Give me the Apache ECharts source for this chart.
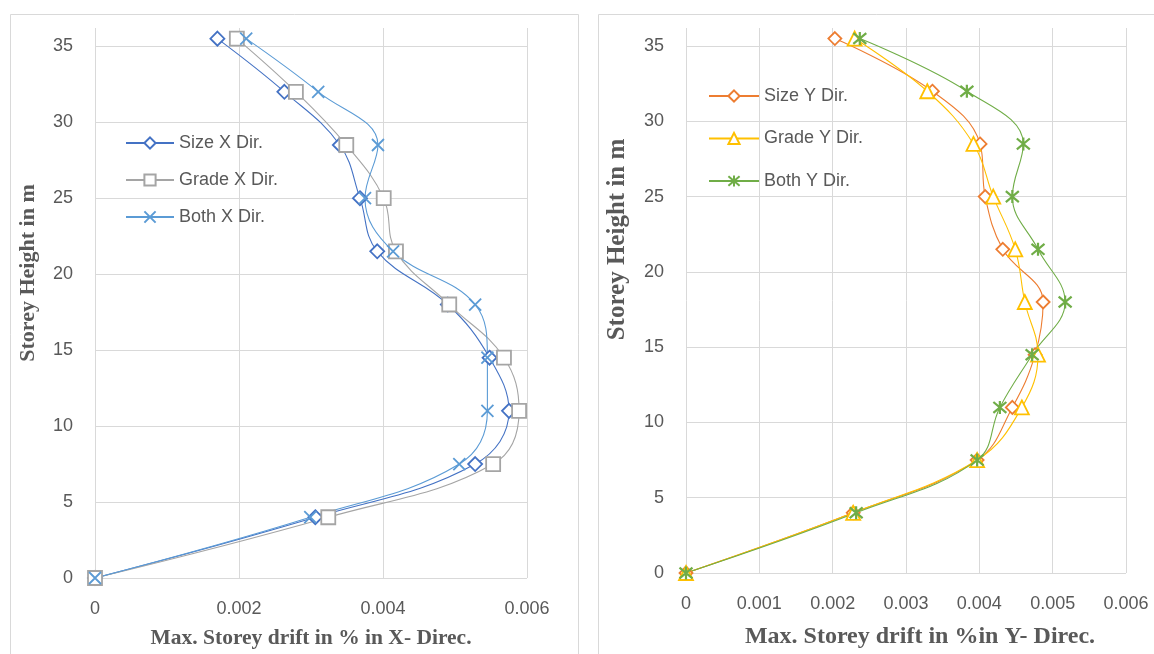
<!DOCTYPE html>
<html>
<head>
<meta charset="utf-8">
<script src="https://cdn.jsdelivr.net/npm/echarts@6/dist/echarts.min.js"></script>
<style>
html,body{margin:0;padding:0;background:#fff;}
#c{width:1154px;height:654px;}
</style>
</head>
<body>
<div id="c"></div>
<script>
// Storey heights (m)
const heights = [0, 4, 7.5, 11, 14.5, 18, 21.5, 25, 28.5, 32, 35.5];
// X direction drifts
const sizeX  = [0, 0.00306, 0.00528, 0.00575, 0.00548, 0.00490, 0.00392, 0.00368, 0.00340, 0.00263, 0.00170];
const gradeX = [0, 0.00324, 0.00553, 0.00589, 0.00568, 0.00492, 0.00418, 0.00401, 0.00349, 0.00279, 0.00197];
const bothX  = [0, 0.00299, 0.00506, 0.00545, 0.00545, 0.00528, 0.00414, 0.00375, 0.00393, 0.00310, 0.00210];
// Y direction drifts
const sizeY  = [0, 0.00228, 0.00397, 0.00445, 0.00476, 0.00487, 0.00432, 0.00408, 0.00401, 0.00336, 0.00203];
const gradeY = [0, 0.00228, 0.00397, 0.00458, 0.00480, 0.00462, 0.00449, 0.00419, 0.00392, 0.00329, 0.00230];
const bothY  = [0, 0.00232, 0.00397, 0.00428, 0.00472, 0.00517, 0.00480, 0.00445, 0.00460, 0.00383, 0.00237];

const namesX = ['Size X Dir.', 'Grade X Dir.', 'Both X Dir.'];
const namesY = ['Size Y Dir.', 'Grade Y Dir.', 'Both Y Dir.'];
const titleX = 'Max. Storey drift in % in X- Direc.';
const titleY = 'Max. Storey drift in %in Y- Direc.';
const titleH = 'Storey Height in m';

const pair = (xs) => xs.map((v, i) => [v, heights[i]]);

const X_PATH = 'path://M0,0L10,10M10,0L0,10';
const STAR_PATH = 'path://M0,0L10,10M10,0L0,10M5,-1L5,11';

const grey = '#595959';
const gridC = '#d9d9d9';
const sans = 'Liberation Sans, Arial, sans-serif';
const serif = 'Liberation Serif, Times New Roman, serif';

function mkSeries(name, data, color, symbol, size, xi, bw) {
  return {
    name, type: 'line', xAxisIndex: xi, yAxisIndex: xi,
    data: pair(data), smooth: 0.4,
    symbol, symbolSize: size,
    lineStyle: { color, width: 1.1 },
    itemStyle: { color: '#fff', borderColor: color, borderWidth: bw || 1.8 },
    emphasis: { disabled: true }
  };
}

function xAxis(gi, interval, name, fs, gap, pad) {
  return {
    type: 'value', gridIndex: gi, min: 0, max: 0.006, interval,
    axisLine: { show: false }, axisTick: { show: false },
    splitLine: { show: true, lineStyle: { color: gridC, width: 1 } },
    axisLabel: { color: grey, fontFamily: sans, fontSize: 18, margin: 22 },
    name, nameLocation: 'middle', nameGap: gap,
    nameTextStyle: { fontFamily: serif, fontWeight: 'bold', fontSize: fs, color: grey, padding: pad }
  };
}
function yAxis(gi, fs, pad) {
  return {
    type: 'value', gridIndex: gi, min: 0, max: 36.2, interval: 5,
    axisLine: { show: false }, axisTick: { show: false },
    splitLine: { show: true, showMaxLine: false, lineStyle: { color: gridC, width: 1 } },
    axisLabel: { color: grey, fontFamily: sans, fontSize: 18, margin: 22, showMaxLabel: false },
    name: titleH, nameLocation: 'middle', nameGap: 56,
    nameTextStyle: { fontFamily: serif, fontWeight: 'bold', fontSize: fs, color: grey, padding: pad }
  };
}

const chart = echarts.init(document.getElementById('c'), null, { renderer: 'canvas' });
chart.setOption({
  animation: false,
  backgroundColor: '#fff',
  graphic: [
    { type: 'rect', shape: { x: 10.5, y: 14.5, width: 568, height: 680 }, style: { fill: 'none', stroke: gridC, lineWidth: 1 }, silent: true },
    { type: 'rect', shape: { x: 598.5, y: 14.5, width: 620, height: 680 }, style: { fill: 'none', stroke: gridC, lineWidth: 1 }, silent: true }
  ],
  grid: [
    { left: 95, top: 28, width: 432, height: 550 },
    { left: 686, top: 28, width: 440, height: 545 }
  ],
  xAxis: [
    xAxis(0, 0.002, titleX, 21.5, 49, [0, 0, 0, 0]),
    xAxis(1, 0.001, titleY, 24, 52, [0, 0, 0, 28])
  ],
  yAxis: [
    yAxis(0, 22, [0, 0, 0, 60]),
    yAxis(1, 25, [0, 0, 0, 122])
  ],
  legend: [
    { data: namesX, orient: 'vertical', left: 120, top: 129, itemWidth: 48, itemHeight: 14, itemGap: 19,
      textStyle: { color: grey, fontFamily: sans, fontSize: 18 } },
    { data: namesY, orient: 'vertical', left: 703, top: 82, itemWidth: 50, itemHeight: 14, itemGap: 24.5,
      textStyle: { color: grey, fontFamily: sans, fontSize: 18 } }
  ],
  series: [
    mkSeries(namesX[0], sizeX, '#4472C4', 'diamond', 14, 0),
    mkSeries(namesX[1], gradeX, '#A5A5A5', 'rect', 14, 0),
    mkSeries(namesX[2], bothX, '#5B9BD5', X_PATH, 12, 0),
    mkSeries(namesY[0], sizeY, '#ED7D31', 'diamond', 13, 1),
    mkSeries(namesY[1], gradeY, '#FFC000', 'triangle', 14, 1),
    mkSeries(namesY[2], bothY, '#70AD47', STAR_PATH, 13, 1, 2.2)
  ]
});
</script>
</body>
</html>
